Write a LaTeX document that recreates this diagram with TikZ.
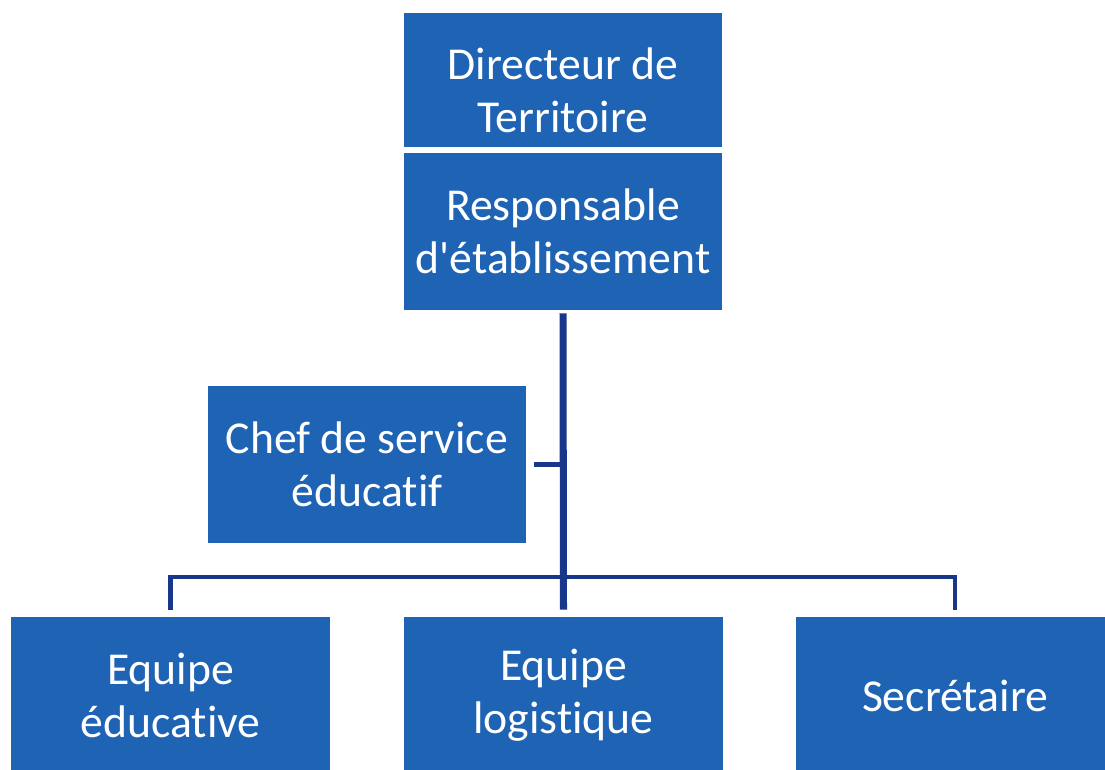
\documentclass[tikz,border=0pt]{standalone}
\usepackage{fontspec}
\newfontfamily\postefont{Carlito}[RawFeature={-liga;-clig;-calt;-dlig}]
\definecolor{boxblue}{RGB}{31,99,181}
\definecolor{linkblue}{RGB}{24,54,138}
\newcommand\ti{t\kern0pt i}
\begin{document}
\begin{tikzpicture}[x=0.02cm,y=-0.02cm,
	poste/.style={fill=boxblue,text=white,minimum width=6.38cm,inner sep=0pt,align=center,font=\postefont\fontsize{26}{30}\selectfont},
	lien/.style={draw=linkblue,line width=2.8pt}]
	\useasboundingbox (0,0) rectangle (1105,769);
	\node [poste,minimum height=2.68cm,label={[text=white,align=center,font=\postefont\fontsize{26}{30}\selectfont,yshift=-0.2cm]center:Directeur de\\Territoire}] (DT) at (563,80) {};
	\node [poste,minimum height=3.14cm] (RE) at (563,231.5) {Responsable\\d'établissement};
	\node [poste,minimum height=3.14cm] (CS) at (367,464.5) {Chef de service\\éduca\ti f};
	\node [poste,minimum height=3.14cm] (EE) at (170.5,695.5) {Equipe\\éduca\ti ve};
	\node [poste,minimum height=3.14cm] (EL) at (563.5,695.5) {Equipe\\logistique};
	\node [poste,minimum height=3.14cm] (SE) at (955,695.5) {Secrétaire};
	\coordinate (B) at (563,577);
	
	\draw [lien,line width=4pt,shorten <=0.06cm,shorten >=0.14cm] (RE.south) -- (EL.north);
	\draw [lien,shorten <=0.14cm,shorten >=0.14cm] (EE.north) |- (B) -| (SE.north);
	\draw [lien,shorten <=0.14cm] (CS.east) -- (CS.east -| RE.south);
\end{tikzpicture}
\end{document}
